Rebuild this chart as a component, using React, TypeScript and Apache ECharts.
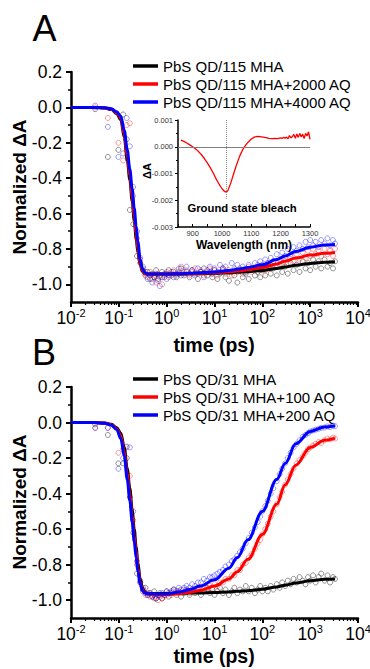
import React, { useEffect, useRef } from 'react';
import * as echarts from 'echarts';

const FONT = '"Liberation Sans", Arial, Helvetica, sans-serif';

// ---------- Panel A / B legends ----------
const legendA = ['PbS QD/115 MHA', 'PbS QD/115 MHA+2000 AQ', 'PbS QD/115 MHA+4000 AQ'];
const legendB = ['PbS QD/31 MHA', 'PbS QD/31 MHA+100 AQ', 'PbS QD/31 MHA+200 AQ'];
const seriesColors = ['#000000', '#ff0000', '#0000ff'];
const scatterColors = ['rgba(40,40,40,0.7)', 'rgba(255,0,0,0.55)', 'rgba(0,0,255,0.55)'];

// ---------- tick labels ----------
const yTickLabels = [0.2, 0, -0.2, -0.4, -0.6, -0.8, -1.0];
const yMinorTicks = [0.1, -0.1, -0.3, -0.5, -0.7, -0.9];
const xDecades = [0.01, 0.1, 1, 10, 100, 1000, 10000];
const insetXLabels = [900, 1000, 1100, 1200, 1300];
const insetXTicks = [850, 900, 950, 1000, 1050, 1100, 1150, 1200, 1250, 1300];

// ---------- measured points (time in ps) ----------
const scatterTimes = [
  0.032, 0.059, 0.098, 0.123, 0.146, 0.17, 0.2, 0.24, 0.28, 0.32,
  0.36, 0.4, 0.45, 0.5, 0.55, 0.6, 0.66, 0.72, 0.8, 0.9,
  1.0, 1.1, 1.25, 1.4, 1.6, 1.8, 2.0, 2.3, 2.6, 3.0,
  3.4, 3.9, 4.5, 5.2, 6, 7, 8, 9, 10, 11.5,
  13, 15, 17, 20, 23, 26, 30, 34, 39, 45,
  52, 60, 70, 80, 90, 100, 115, 130, 150, 170,
  200, 230, 260, 300, 340, 390, 450, 520, 600, 700,
  800, 900, 1000, 1150, 1300, 1500, 1700, 2000, 2300, 2600,
  3000, 3300,
];

const dataA0 = [
  -0.01, -0.28, -0.24, -0.04, -0.18, -0.58, -0.66, -0.84, -0.88, -0.92,
  -0.95, -0.93, -0.97, -0.94, -0.96, -0.92, -0.97, -0.95, -0.93, -0.96,
  -0.94, -0.92, -0.95, -0.93, -0.96, -0.94, -0.91, -0.95, -0.93, -0.96,
  -0.92, -0.94, -0.97, -0.93, -0.91, -0.95, -0.93, -0.96, -0.92, -0.97,
  -0.94, -0.91, -0.96, -0.98, -0.93, -0.95, -0.99, -0.92, -0.96, -0.94,
  -0.97, -0.91, -0.95, -0.93, -0.96, -0.92, -0.95, -0.90, -0.94, -0.91,
  -0.95, -0.89, -0.93, -0.90, -0.94, -0.88, -0.92, -0.89, -0.93, -0.87,
  -0.91, -0.88, -0.92, -0.86, -0.90, -0.87, -0.91, -0.86, -0.90, -0.88,
  -0.91, -0.87,
];
const dataA1 = [
  0.0, -0.06, -0.2, -0.30, -0.1, -0.09, -0.5, -0.74, -0.86, -0.91,
  -0.94, -0.96, -0.93, -0.97, -0.95, -0.99, -0.94, -0.96, -1.00, -0.95,
  -0.93, -0.96, -0.94, -0.92, -0.95, -0.93, -0.90, -0.94, -0.92, -0.95,
  -0.93, -0.91, -0.94, -0.92, -0.95, -0.93, -0.91, -0.94, -0.92, -0.95,
  -0.93, -0.91, -0.94, -0.92, -0.95, -0.92, -0.93, -0.91, -0.94, -0.92,
  -0.90, -0.93, -0.91, -0.89, -0.92, -0.90, -0.92, -0.88, -0.91, -0.87,
  -0.90, -0.86, -0.89, -0.85, -0.88, -0.84, -0.87, -0.83, -0.86, -0.82,
  -0.85, -0.81, -0.84, -0.80, -0.83, -0.81, -0.84, -0.80, -0.83, -0.81,
  -0.84, -0.80,
];
const dataA2 = [
  0.01, -0.11, -0.28, -0.26, -0.06, -0.22, -0.45, -0.70, -0.85, -0.90,
  -0.93, -0.97, -0.95, -0.99, -0.96, -0.94, -0.98, -1.01, -0.96, -0.94,
  -0.97, -0.95, -0.93, -0.96, -0.94, -0.91, -0.95, -0.93, -0.90, -0.94,
  -0.92, -0.95, -0.91, -0.93, -0.96, -0.92, -0.90, -0.94, -0.91, -0.93,
  -0.89, -0.92, -0.90, -0.93, -0.88, -0.91, -0.89, -0.92, -0.90, -0.93,
  -0.89, -0.91, -0.88, -0.90, -0.87, -0.89, -0.86, -0.88, -0.85, -0.87,
  -0.83, -0.86, -0.82, -0.84, -0.80, -0.83, -0.79, -0.81, -0.78, -0.80,
  -0.76, -0.79, -0.75, -0.78, -0.76, -0.79, -0.75, -0.77, -0.74, -0.78,
  -0.75, -0.77,
];

const dataB0 = [
  -0.01, -0.07, -0.23, -0.23, -0.2, -0.42, -0.62, -0.85, -0.90, -0.95,
  -0.93, -0.97, -0.96, -0.98, -0.95, -0.99, -0.97, -0.96, -0.99, -0.97,
  -0.95, -0.98, -0.96, -0.94, -0.97, -0.95, -0.98, -0.96, -0.94, -0.97,
  -0.95, -0.96, -0.94, -0.97, -0.95, -0.93, -0.96, -0.94, -0.97, -0.95,
  -0.93, -0.96, -0.94, -0.97, -0.95, -0.93, -0.96, -0.94, -0.95, -0.92,
  -0.95, -0.93, -0.96, -0.94, -0.92, -0.95, -0.93, -0.95, -0.92, -0.94,
  -0.91, -0.93, -0.90, -0.92, -0.89, -0.91, -0.88, -0.90, -0.87, -0.89,
  -0.91, -0.87, -0.89, -0.86, -0.90, -0.87, -0.85, -0.89, -0.86, -0.90,
  -0.87, -0.88,
];
const dataB1 = [
  -0.03, -0.03, -0.17, -0.15, -0.14, -0.3, -0.55, -0.8, -0.9, -0.94,
  -0.97, -0.96, -0.98, -0.97, -0.99, -0.98, -1.0, -0.97, -0.99, -0.98,
  -0.97, -0.96, -0.97, -0.95, -0.96, -0.95, -0.96, -0.94, -0.95, -0.96,
  -0.94, -0.95, -0.93, -0.94, -0.93, -0.94, -0.92, -0.93, -0.91, -0.92,
  -0.90, -0.90, -0.88, -0.88, -0.86, -0.86, -0.83, -0.83, -0.80, -0.79,
  -0.76, -0.74, -0.71, -0.68, -0.66, -0.63, -0.60, -0.57, -0.53, -0.50,
  -0.46, -0.42, -0.39, -0.35, -0.32, -0.29, -0.26, -0.23, -0.21, -0.19,
  -0.17, -0.15, -0.14, -0.13, -0.12, -0.11, -0.115, -0.10, -0.09, -0.095,
  -0.085, -0.09,
];
const dataB2 = [
  -0.03, -0.03, -0.26, -0.2, -0.135, -0.14, -0.5, -0.78, -0.89, -0.93,
  -0.96, -0.97, -0.96, -0.98, -0.97, -0.99, -0.97, -0.98, -0.96, -0.97,
  -0.95, -0.96, -0.95, -0.94, -0.95, -0.93, -0.94, -0.93, -0.92, -0.93,
  -0.91, -0.92, -0.90, -0.90, -0.88, -0.89, -0.87, -0.87, -0.86, -0.85,
  -0.84, -0.83, -0.81, -0.80, -0.78, -0.77, -0.75, -0.73, -0.71, -0.68,
  -0.65, -0.62, -0.59, -0.56, -0.53, -0.50, -0.47, -0.44, -0.40, -0.37,
  -0.33, -0.29, -0.26, -0.23, -0.20, -0.17, -0.14, -0.12, -0.10, -0.08,
  -0.07, -0.06, -0.05, -0.045, -0.04, -0.035, -0.03, -0.028, -0.022, -0.025,
  -0.018, -0.02,
];

// ---------- fitted curves ----------
const fitTimes = [
  0.01, 0.03, 0.05, 0.07, 0.09, 0.11, 0.13, 0.15, 0.17, 0.19,
  0.21, 0.23, 0.25, 0.28, 0.31, 0.35, 0.4, 0.6, 1, 2,
  3, 5, 10, 20, 30, 50, 100, 200, 300, 500,
  1000, 2000, 3300,
];
const fitA0 = [
  0, 0, -0.003, -0.012, -0.035, -0.07, -0.17, -0.3, -0.41, -0.53,
  -0.64, -0.74, -0.82, -0.89, -0.925, -0.94, -0.942, -0.942, -0.942, -0.942,
  -0.941, -0.94, -0.938, -0.935, -0.932, -0.929, -0.922, -0.91, -0.902, -0.892,
  -0.882, -0.875, -0.872,
];
const fitA1 = [
  0, 0, -0.002, -0.01, -0.03, -0.06, -0.15, -0.27, -0.38, -0.5,
  -0.61, -0.71, -0.8, -0.88, -0.92, -0.94, -0.942, -0.942, -0.942, -0.941,
  -0.94, -0.938, -0.935, -0.93, -0.925, -0.918, -0.905, -0.885, -0.87, -0.852,
  -0.835, -0.825, -0.82,
];
const fitA2 = [
  0, 0, -0.002, -0.008, -0.025, -0.05, -0.13, -0.24, -0.35, -0.46,
  -0.57, -0.67, -0.76, -0.86, -0.91, -0.935, -0.942, -0.942, -0.942, -0.94,
  -0.938, -0.935, -0.93, -0.922, -0.915, -0.905, -0.89, -0.86, -0.84, -0.815,
  -0.79, -0.778, -0.775,
];
const fitB0 = [
  0, 0, -0.002, -0.01, -0.03, -0.06, -0.14, -0.26, -0.37, -0.49,
  -0.6, -0.7, -0.79, -0.88, -0.93, -0.955, -0.962, -0.963, -0.962, -0.961,
  -0.96, -0.959, -0.957, -0.953, -0.95, -0.946, -0.938, -0.925, -0.915, -0.903,
  -0.89, -0.882, -0.88,
];
const fitB1 = [
  0, 0, -0.003, -0.012, -0.035, -0.075, -0.17, -0.29, -0.41, -0.53,
  -0.64, -0.73, -0.82, -0.9, -0.94, -0.958, -0.965, -0.968, -0.968, -0.962,
  -0.955, -0.945, -0.92, -0.88, -0.84, -0.77, -0.63, -0.46, -0.35, -0.24,
  -0.14, -0.1, -0.088,
];
const fitB2 = [
  0, 0, -0.004, -0.015, -0.04, -0.09, -0.19, -0.32, -0.44, -0.56,
  -0.67, -0.76, -0.84, -0.91, -0.945, -0.96, -0.963, -0.965, -0.965, -0.952,
  -0.94, -0.92, -0.885, -0.82, -0.76, -0.66, -0.5, -0.32, -0.23, -0.12,
  -0.05, -0.025, -0.018,
];

// ---------- inset: steady-state spectrum ----------
const insetWavelength = [
  860, 870, 880, 890, 900, 910, 920, 930, 940, 950,
  960, 970, 980, 990, 1000, 1010, 1015, 1020, 1030, 1040,
  1050, 1060, 1070, 1080, 1090, 1100, 1110, 1120, 1130, 1140,
  1150, 1160, 1170, 1180, 1190, 1200, 1205, 1210, 1215, 1220,
  1225, 1230, 1235, 1240, 1245, 1250, 1255, 1260, 1265, 1270,
  1275, 1280, 1285, 1290, 1295, 1300,
];
const insetDeltaA = [
  0.00025, 0.0002, 0.00014, 0.00007, 0.0, -0.00008, -0.00018, -0.0003, -0.00044, -0.0006,
  -0.00078, -0.00098, -0.0012, -0.0014, -0.00157, -0.00168, -0.0017, -0.00164, -0.00135, -0.001,
  -0.00066, -0.00036, -0.00012, 0.00005, 0.00018, 0.00029, 0.00036, 0.00039, 0.00038, 0.00036,
  0.00034, 0.00031, 0.0003, 0.00031, 0.0003, 0.00033, 0.00031, 0.00035, 0.00032, 0.00036,
  0.0003, 0.00042, 0.00033, 0.00038, 0.00046, 0.00032, 0.00048, 0.00035, 0.0005, 0.00037,
  0.00047, 0.00031, 0.0005, 0.0004, 0.00056, 0.00028,
];
const bleachPeak = 1015;

const pair = (xs: number[], ys: number[]) => xs.map((x, i) => [x, ys[i]]);

function buildMinorLogTicks(): number[] {
  const out: number[] = [];
  for (let e = -2; e < 4; e++) {
    for (let k = 2; k <= 9; k++) out.push(Number((k * Math.pow(10, e)).toPrecision(6)));
  }
  return out;
}

function buildOption(): any {
  const minorLog = buildMinorLogTicks();
  const xMain = (gi: number) => ({
    type: 'log', logBase: 10, gridIndex: gi, min: 0.01, max: 10000, position: 'bottom',
    axisLine: { show: true, onZero: false, lineStyle: { color: '#000', width: 2.5 } },
    axisTick: { show: true, length: 5, lineStyle: { color: '#000', width: 2 }, customValues: xDecades },
    axisLabel: {
      customValues: xDecades, margin: 5, color: '#000',
      formatter: (v: number) => `{a|10}{b|${Math.round(Math.log10(v))}}`,
      rich: {
        a: { fontSize: 17.5, fontFamily: FONT, color: '#000', lineHeight: 22 },
        b: { fontSize: 11, fontFamily: FONT, color: '#000', lineHeight: 11, verticalAlign: 'top' },
      },
    },
    splitLine: { show: false },
  });
  const xMinor = (gi: number) => ({
    type: 'log', logBase: 10, gridIndex: gi, min: 0.01, max: 10000, position: 'bottom',
    axisLine: { show: false, onZero: false },
    axisTick: { show: true, length: 3, lineStyle: { color: '#000', width: 1.2 }, customValues: minorLog },
    axisLabel: { show: false },
    splitLine: { show: false },
  });
  const yMain = (gi: number) => ({
    type: 'value', gridIndex: gi, min: -1.1, max: 0.2, position: 'left',
    axisLine: { show: true, onZero: false, lineStyle: { color: '#000', width: 2.5 } },
    axisTick: { show: true, length: 5, lineStyle: { color: '#000', width: 2 }, customValues: yTickLabels },
    axisLabel: {
      customValues: yTickLabels, margin: 9, fontSize: 17.5, color: '#000', fontFamily: FONT,
      formatter: (v: number) => v.toFixed(1),
    },
    splitLine: { show: false },
  });
  const yMinor = (gi: number) => ({
    type: 'value', gridIndex: gi, min: -1.1, max: 0.2, position: 'left',
    axisLine: { show: false, onZero: false },
    axisTick: { show: true, length: 3, lineStyle: { color: '#000', width: 1.5 }, customValues: yMinorTicks },
    axisLabel: { show: false },
    splitLine: { show: false },
  });

  const scatter = (name: string, xi: number, ys: number[], c: string) => ({
    name, type: 'scatter', xAxisIndex: xi, yAxisIndex: xi,
    data: pair(scatterTimes, ys), symbol: 'circle', symbolSize: 5,
    itemStyle: { color: 'rgba(255,255,255,0)', borderColor: c, borderWidth: 0.9 },
    silent: true,
  });
  const fit = (name: string, xi: number, ys: number[], c: string) => ({
    name, type: 'line', xAxisIndex: xi, yAxisIndex: xi,
    data: pair(fitTimes, ys), showSymbol: false, symbol: 'none',
    smooth: 0.35, smoothMonotone: 'x',
    lineStyle: { color: c, width: 3 }, itemStyle: { color: c },
    silent: true,
  });

  const legendCommon = {
    orient: 'vertical', left: 128, itemWidth: 25, itemHeight: 3.5, itemGap: 0, icon: 'rect',
    selectedMode: false,
    textStyle: { fontSize: 15, fontFamily: FONT, color: '#000', lineHeight: 18 },
  };

  const boldText = (text: string, x: number, y: number, size: number, rot = 0, weight = 'bold') => ({
    type: 'text', x, y, rotation: rot, silent: true,
    style: {
      text, fontSize: size, fontFamily: FONT, fontWeight: weight, fill: '#000',
      textAlign: 'center', textVerticalAlign: 'middle', align: 'center', verticalAlign: 'middle',
    },
  });

  return {
    animation: false,
    backgroundColor: '#ffffff',
    grid: [
      { left: 71, top: 72, width: 287, height: 230, outerBoundsMode: 'none', containLabel: false },
      { left: 71, top: 387, width: 287, height: 231, outerBoundsMode: 'none', containLabel: false },
      { left: 178, top: 120, width: 132, height: 107, outerBoundsMode: 'none', containLabel: false },
    ],
    xAxis: [
      xMain(0), xMinor(0), xMain(1), xMinor(1),
      {
        type: 'value', gridIndex: 2, min: 850, max: 1300, position: 'bottom',
        axisLine: { show: true, onZero: false, lineStyle: { color: '#000', width: 1.5 } },
        axisTick: { show: true, inside: true, length: 3, lineStyle: { color: '#000', width: 1 }, customValues: insetXTicks },
        axisLabel: {
          customValues: insetXLabels, margin: 2, fontSize: 7.5, lineHeight: 8, color: '#333', fontFamily: FONT,
          formatter: (v: number) => String(Math.round(v)),
        },
        splitLine: { show: false },
      },
    ],
    yAxis: [
      yMain(0), yMinor(0), yMain(1), yMinor(1),
      {
        type: 'value', gridIndex: 2, min: -0.003, max: 0.001, interval: 0.001, position: 'left',
        axisLine: { show: true, onZero: false, lineStyle: { color: '#000', width: 1.5 } },
        axisTick: { show: true, length: 3, lineStyle: { color: '#000', width: 1 } },
        minorTick: { show: true, splitNumber: 2, length: 2, lineStyle: { color: '#000', width: 1 } },
        axisLabel: { margin: 5, fontSize: 7.5, color: '#333', fontFamily: FONT, formatter: (v: number) => v.toFixed(3) },
        splitLine: { show: false },
      },
    ],
    legend: [
      { ...legendCommon, top: 52, data: legendA },
      { ...legendCommon, top: 365, data: legendB },
    ],
    series: [
      scatter('a-pts-0', 0, dataA0, scatterColors[0]),
      scatter('a-pts-1', 0, dataA1, scatterColors[1]),
      scatter('a-pts-2', 0, dataA2, scatterColors[2]),
      fit(legendA[0], 0, fitA0, seriesColors[0]),
      fit(legendA[1], 0, fitA1, seriesColors[1]),
      fit(legendA[2], 0, fitA2, seriesColors[2]),
      scatter('b-pts-0', 2, dataB0, scatterColors[0]),
      scatter('b-pts-1', 2, dataB1, scatterColors[1]),
      scatter('b-pts-2', 2, dataB2, scatterColors[2]),
      fit(legendB[0], 2, fitB0, seriesColors[0]),
      fit(legendB[1], 2, fitB1, seriesColors[1]),
      fit(legendB[2], 2, fitB2, seriesColors[2]),
      {
        name: 'spectrum', type: 'line', xAxisIndex: 4, yAxisIndex: 4,
        data: pair(insetWavelength, insetDeltaA), showSymbol: false, symbol: 'none',
        lineStyle: { color: '#ff0000', width: 1.3 }, itemStyle: { color: '#ff0000' },
        silent: true,
        markLine: {
          silent: true, symbol: 'none', label: { show: false }, animation: false,
          data: [
            { yAxis: 0, lineStyle: { color: '#7f7f7f', width: 1, type: 'solid' } },
            [
              { coord: [bleachPeak, 0.001], lineStyle: { color: '#8a8a8a', width: 1, type: 'dotted' } },
              { coord: [bleachPeak, -0.00195] },
            ],
          ],
        },
      },
    ],
    graphic: [
      boldText('A', 44.5, 28.5, 36, 0, 'normal'),
      boldText('B', 44, 352.5, 36, 0, 'normal'),
      boldText('Normalized ΔA', 19.5, 187, 19, Math.PI / 2),
      boldText('Normalized ΔA', 19.5, 502, 19, Math.PI / 2),
      boldText('time (ps)', 214, 345, 19.5),
      boldText('time (ps)', 214, 656, 19.5),
      boldText('ΔA', 147, 171, 11, Math.PI / 2),
      boldText('Wavelength (nm)', 244, 245, 12),
      boldText('Ground state bleach', 242, 208, 11.3),
    ],
  };
}

export default function App() {
  const ref = useRef<HTMLDivElement>(null);
  useEffect(() => {
    document.body.style.margin = '0';
    if (!ref.current) return;
    const chart = echarts.init(ref.current, null, { renderer: 'svg' });
    chart.setOption(buildOption());
    return () => chart.dispose();
  }, []);
  return <div ref={ref} style={{ width: 370, height: 669, position: 'absolute', left: 0, top: 0 }} />;
}
